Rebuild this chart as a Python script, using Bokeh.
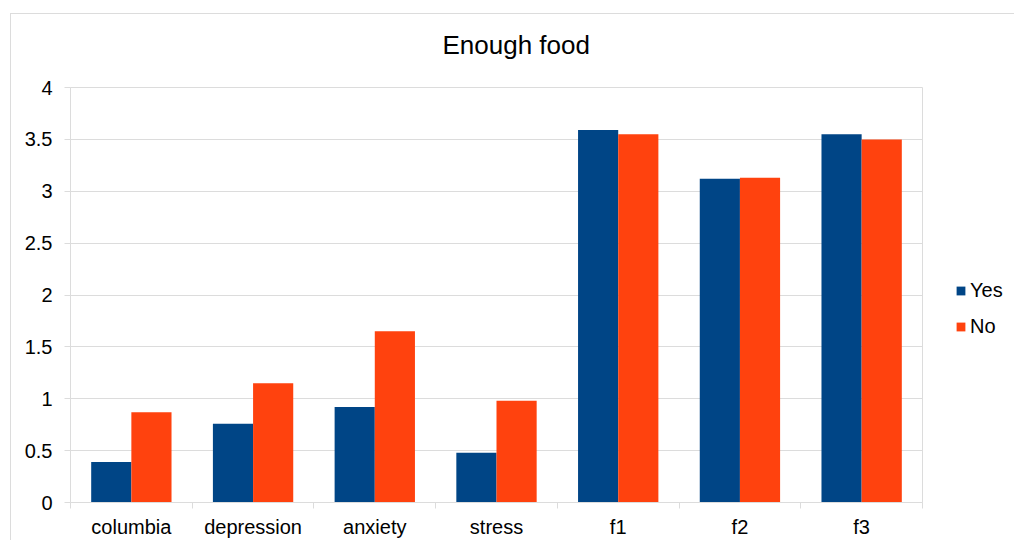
import numpy as np
from bokeh.plotting import figure
from bokeh.models import Range1d, FixedTicker, Legend, LegendItem, Title, ColumnDataSource
from bokeh.embed import file_html
from bokeh.resources import INLINE
from bokeh.transform import dodge

title_text = "Enough food"
categories = ["columbia", "depression", "anxiety", "stress", "f1", "f2", "f3"]
series_names = ["Yes", "No"]
yes_values = [0.39, 0.76, 0.92, 0.48, 3.59, 3.12, 3.55]
no_values = [0.87, 1.15, 1.65, 0.98, 3.55, 3.13, 3.50]
y_ticks = [0, 0.5, 1, 1.5, 2, 2.5, 3, 3.5, 4]
y_tick_labels = ["0", "0.5", "1", "1.5", "2", "2.5", "3", "3.5", "4"]
colors = ["#004586", "#ff420e"]

FONT = "Liberation Sans"
GRID = "#dcdcdc"

n = len(categories)
centers = list(np.arange(n) + 0.5)
bounds = list(range(n + 1))

src = ColumnDataSource(dict(x=centers, yes=yes_values, no=no_values))

p = figure(
    frame_width=852, frame_height=415,
    x_range=Range1d(0, n), y_range=Range1d(0, 4),
    output_backend="svg", toolbar_location=None,
    min_border_left=70, min_border_right=90, min_border_top=87, min_border_bottom=36,
)
# outer chart border (top and left) drawn behind a transparent canvas border
p.styles = {
    "background": (
        f"linear-gradient({GRID},{GRID}) 10px 13px / 100% 1px no-repeat, "
        f"linear-gradient({GRID},{GRID}) 10px 13px / 1px 100% no-repeat, white"
    ),
}

bw = 0.33
r_yes = p.vbar(x=dodge("x", -bw / 2, range=p.x_range), top="yes", width=bw, bottom=0,
               source=src, fill_color=colors[0], line_color=None)
r_no = p.vbar(x=dodge("x", bw / 2, range=p.x_range), top="no", width=bw, bottom=0,
              source=src, fill_color=colors[1], line_color=None)

# title
p.title = Title(text=title_text, align="left", text_font=FONT, text_font_size="26px",
                text_font_style="normal", text_color="#000000", offset=372, standoff=55)

# axes
xa = p.xaxis[0]
xa.ticker = FixedTicker(ticks=centers, minor_ticks=bounds)
xa.major_label_overrides = {c: lab for c, lab in zip(centers, categories)}
xa.major_tick_out = 0
xa.major_tick_in = 0
xa.minor_tick_out = 6
xa.minor_tick_in = 0
xa.minor_tick_line_color = GRID
xa.axis_line_color = GRID
xa.major_label_text_font = FONT
xa.major_label_text_font_size = "20px"
xa.major_label_text_color = "#000000"
xa.major_label_standoff = 7

ya = p.yaxis[0]
ya.ticker = FixedTicker(ticks=y_ticks, minor_ticks=[])
ya.major_label_overrides = {t: lab for t, lab in zip(y_ticks, y_tick_labels)}
ya.major_tick_out = 6
ya.major_tick_in = 0
ya.major_tick_line_color = GRID
ya.minor_tick_line_color = None
ya.axis_line_color = GRID
ya.major_label_text_font = FONT
ya.major_label_text_font_size = "20px"
ya.major_label_text_color = "#000000"
ya.major_label_standoff = 12

p.xgrid.grid_line_color = None
p.ygrid.grid_line_color = GRID
p.ygrid.ticker = FixedTicker(ticks=y_ticks)
p.outline_line_color = GRID
p.background_fill_color = "white"
p.border_fill_color = "white"
p.border_fill_alpha = 0

legend = Legend(
    items=[LegendItem(label=series_names[0], renderers=[r_yes]),
           LegendItem(label=series_names[1], renderers=[r_no])],
    location=(33, 164),
    padding=0, margin=0, spacing=13,
    glyph_width=11, glyph_height=11, label_standoff=4, label_height=20,
    label_text_font=FONT, label_text_font_size="20px", label_text_color="#000000",
    border_line_color=None, background_fill_alpha=0,
)
p.add_layout(legend, "right")

open("out.html", "w").write(file_html(p, INLINE))
